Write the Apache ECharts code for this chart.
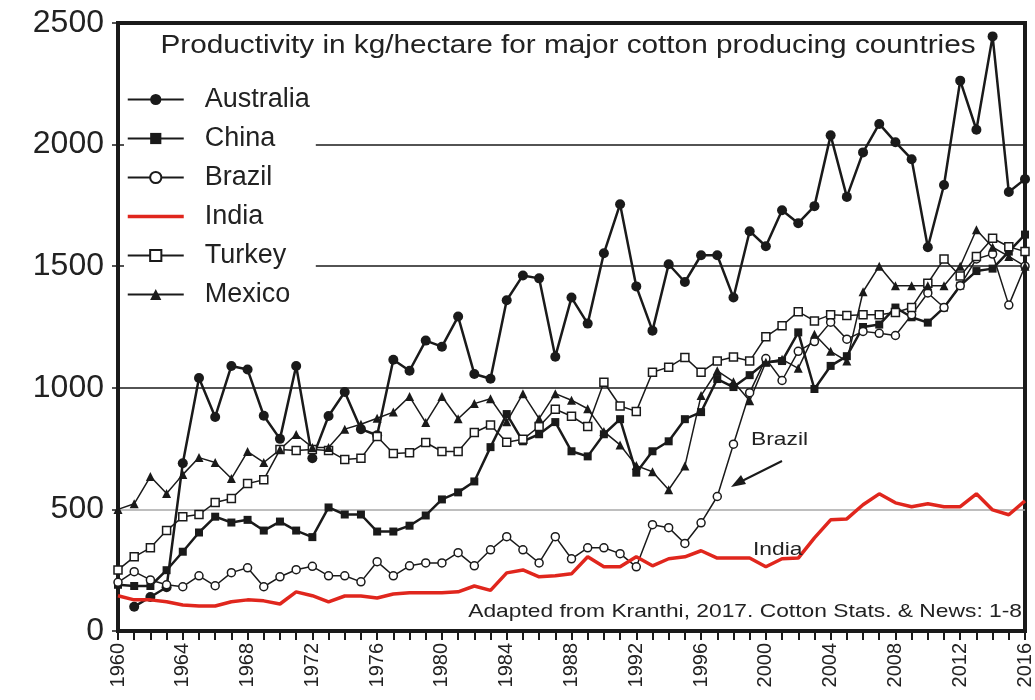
<!DOCTYPE html>
<html>
<head>
<meta charset="utf-8">
<script src="https://cdn.jsdelivr.net/npm/echarts@6/dist/echarts.min.js"></script>
<style>
  html, body { margin: 0; padding: 0; background: #fff; }
  #chart { width: 1035px; height: 700px; }
</style>
</head>
<body>
<div id="chart"></div>
<script>
// Data (kg/hectare)
var years = [];
for (var y = 1960; y <= 2016; y++) years.push(String(y));

var australia = [null, 100, 140, 180, 690, 1040, 880, 1090, 1075, 885,
    790, 1090, 710, 884, 983, 830, 805, 1115, 1070, 1194,
    1169, 1293, 1057, 1037, 1360, 1462, 1450, 1128, 1371, 1264,
    1553, 1755, 1417, 1235, 1508, 1435, 1545, 1545, 1371, 1644,
    1582, 1730, 1677, 1747, 2038, 1785, 1968, 2085, 2010, 1940,
    1578, 1834, 2263, 2061, 2445, 1805, 1858];

var china = [190, 185, 185, 250, 326, 405, 470, 446, 457, 413,
    450, 413, 386, 508, 479, 479, 409, 409, 433, 475,
    541, 570, 615, 756, 892, 780, 809, 859, 739, 718,
    809, 871, 651, 739, 780, 871, 900, 1036, 1003, 1052,
    1105, 1110, 1228, 995, 1090, 1130, 1250, 1260, 1330, 1290,
    1268, 1330, 1420, 1480, 1490, 1560, 1630];

var brazil = [200, 244, 210, 190, 182, 227, 186, 240, 260, 182,
    223, 252, 266, 227, 227, 202, 285, 227, 268, 280,
    280, 322, 268, 334, 388, 334, 280, 388, 297, 342,
    342, 318, 264, 437, 425, 360, 445, 553, 768, 980,
    1120, 1030, 1150, 1190, 1270, 1200, 1232, 1224, 1215, 1300,
    1390, 1330, 1420, 1530, 1550, 1340, 1500];

var india = [145, 128, 128, 120, 107, 103, 103, 120, 128, 124,
    111, 161, 145, 120, 144, 144, 136, 152, 157, 157,
    157, 161, 185, 167, 239, 251, 223, 227, 235, 305,
    264, 264, 305, 268, 297, 305, 330, 300, 300, 300,
    264, 297, 300, 383, 457, 461, 519, 564, 527, 511,
    523, 511, 511, 564, 498, 478, 535];

var turkey = [251, 305, 342, 413, 470, 479, 528, 545, 606, 622,
    746, 742, 746, 742, 705, 710, 800, 730, 733, 775,
    738, 738, 816, 847, 776, 788, 841, 912, 883, 841,
    1023, 925, 903, 1064, 1085, 1125, 1064, 1110, 1127, 1110,
    1210, 1255, 1313, 1275, 1300, 1297, 1300, 1300, 1310, 1330,
    1430, 1530, 1460, 1540, 1615, 1580, 1560];

var mexico = [500, 523, 635, 565, 643, 713, 693, 627, 738, 693,
    746, 808, 755, 755, 830, 850, 875, 900, 964, 857,
    964, 873, 935, 955, 860, 976, 873, 976, 949, 914,
    820, 765, 680, 655, 581, 678, 968, 1070, 1025, 947,
    1105, 1117, 1080, 1220, 1150, 1110, 1395, 1500, 1420, 1420,
    1420, 1420, 1500, 1650, 1578, 1540, 1500];

var yTicks = [0, 500, 1000, 1500, 2000, 2500];

var FONT = 'Liberation Sans, Arial, sans-serif';
var INK = '#1a1a1a';
var RED = '#e0261d';

var chart = echarts.init(document.getElementById('chart'));

function blackSeries(name, data, symbol, filled, size, width) {
    return {
        name: name,
        type: 'line',
        data: data,
        symbol: symbol,
        symbolSize: size,
        showAllSymbol: true,
        connectNulls: false,
        lineStyle: { color: INK, width: width },
        itemStyle: {
            color: filled ? INK : '#fff',
            borderColor: INK,
            borderWidth: filled ? 0 : 1.5
        },
        emphasis: { disabled: true },
        z: 3
    };
}

// stretched text helper (the source figure is a little wider than tall)
function label(text, x, y, size, sx, align) {
    return {
        type: 'text', x: x, y: y, scaleX: sx, z: 10,
        style: {
            text: text,
            font: size + 'px Liberation Sans, Arial, sans-serif',
            fill: '#222',
            align: align || 'left',
            verticalAlign: 'middle'
        }
    };
}

var option = {
    backgroundColor: '#fff',
    animation: false,
    textStyle: { fontFamily: FONT },
    legend: {
        orient: 'vertical',
        left: 124,
        top: 84,
        itemWidth: 56,
        itemHeight: 14,
        itemGap: 12,
        padding: [2, 6, 2, 2],
        backgroundColor: '#fff',
        textStyle: { fontFamily: FONT, fontSize: 27, color: '#222', padding: [0, 0, 0, 16] },
        data: [
            'Australia', 'China', 'Brazil',
            { name: 'India', itemStyle: { opacity: 0 }, lineStyle: { width: 3.5, color: RED } },
            'Turkey', 'Mexico'
        ]
    },
    grid: { left: 118, right: 6, top: 23, bottom: 69, show: true, borderColor: INK, borderWidth: 4 },
    xAxis: {
        type: 'category',
        data: years,
        boundaryGap: false,
        axisLine: { show: true, lineStyle: { color: INK, width: 4 } },
        axisTick: { show: true, interval: 0, length: 9, lineStyle: { color: INK, width: 2 } },
        axisLabel: {
            interval: 3,
            rotate: 90,
            fontFamily: FONT,
            fontSize: 20,
            color: '#222',
            margin: 12
        },
        splitLine: { show: false }
    },
    yAxis: {
        type: 'value',
        min: yTicks[0],
        max: yTicks[yTicks.length - 1],
        interval: 500,
        axisLine: { show: true, lineStyle: { color: INK, width: 4 } },
        axisTick: { show: true, length: 6, lineStyle: { color: INK, width: 1.5 } },
        axisLabel: {
            fontFamily: FONT, fontSize: 32, color: '#222', margin: 14,
            formatter: function (v) { return String(v); }
        },
        splitLine: {
            show: true,
            lineStyle: {
                color: ['transparent', '#a8a8a8', INK, INK, INK, 'transparent'],
                width: 1.5
            }
        }
    },
    graphic: [
        label('Productivity in kg/hectare for major cotton producing countries', 568, 46, 25, 1.19, 'center'),
        label('Brazil', 751, 440, 19, 1.2),
        { type: 'line', z: 10,
          shape: { x1: 782, y1: 461, x2: 742, y2: 481 },
          style: { stroke: INK, lineWidth: 2 } },
        { type: 'polygon', z: 10,
          shape: { points: [[731, 487], [746, 484], [741, 475]] },
          style: { fill: INK } },
        label('India', 753, 550, 19, 1.2),
        label('Adapted from Kranthi, 2017. Cotton Stats. & News: 1-8', 1022, 612, 19, 1.2, 'right')
    ],
    series: [
        blackSeries('Australia', australia, 'circle', true, 10, 2.5),
        blackSeries('China', china, 'rect', true, 8, 2.5),
        blackSeries('Brazil', brazil, 'circle', false, 8, 1.5),
        {
            name: 'India',
            type: 'line',
            data: india,
            symbol: 'none',
            lineStyle: { color: RED, width: 3.5 },
            itemStyle: { color: RED },
            emphasis: { disabled: true },
            z: 4
        },
        blackSeries('Turkey', turkey, 'rect', false, 8, 1.5),
        blackSeries('Mexico', mexico, 'triangle', true, 9, 1.5)
    ]
};

chart.setOption(option);

window.onresize = function () {
    setTimeout(function () {
        chart.resize();
    }, 200);
};
</script>
</body>
</html>
